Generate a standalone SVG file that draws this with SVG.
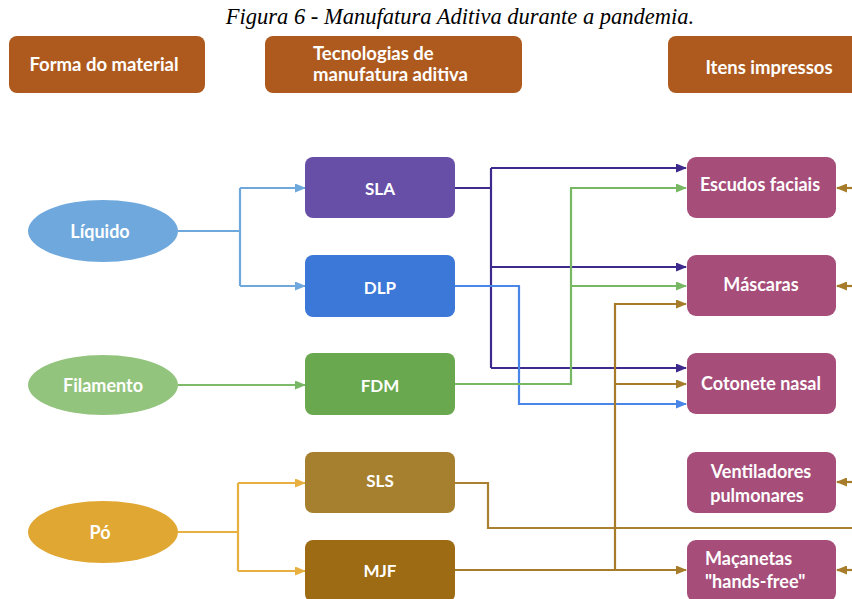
<svg xmlns="http://www.w3.org/2000/svg" width="852" height="599" viewBox="0 0 852 599">
<style>
.t{font-family:Lato,"Liberation Sans",sans-serif;font-weight:bold;fill:#fff;font-size:18px;text-anchor:middle;dominant-baseline:central}
.hd{font-size:18.5px}
.tc{font-size:17px}
.h{fill:#AE5A1E}
.it{fill:#A64D79}
.c{fill:none;stroke-width:2.2}
</style>
<defs>
<marker id="aL" markerUnits="userSpaceOnUse" markerWidth="11" markerHeight="9" refX="10" refY="4.5" orient="auto"><path d="M0,0 L11,4.5 L0,9 z" fill="#6FA8DC"/></marker>
<marker id="aP" markerUnits="userSpaceOnUse" markerWidth="11" markerHeight="9" refX="10" refY="4.5" orient="auto"><path d="M0,0 L11,4.5 L0,9 z" fill="#3E2A8C"/></marker>
<marker id="aB" markerUnits="userSpaceOnUse" markerWidth="11" markerHeight="9" refX="10" refY="4.5" orient="auto"><path d="M0,0 L11,4.5 L0,9 z" fill="#4A86E8"/></marker>
<marker id="aG" markerUnits="userSpaceOnUse" markerWidth="11" markerHeight="9" refX="10" refY="4.5" orient="auto"><path d="M0,0 L11,4.5 L0,9 z" fill="#78B865"/></marker>
<marker id="aO" markerUnits="userSpaceOnUse" markerWidth="11" markerHeight="9" refX="10" refY="4.5" orient="auto"><path d="M0,0 L11,4.5 L0,9 z" fill="#E8B040"/></marker>
<marker id="aN" markerUnits="userSpaceOnUse" markerWidth="11" markerHeight="9" refX="10" refY="4.5" orient="auto"><path d="M0,0 L11,4.5 L0,9 z" fill="#A67C2A"/></marker>
</defs>
<rect width="852" height="599" fill="#fff"/>
<text x="460" y="24" font-family="Liberation Serif,serif" font-style="italic" font-size="22.5" text-anchor="middle" fill="#000">Figura 6 - Manufatura Aditiva durante a pandemia.</text>

<g id="connectors">
<path class="c" stroke="#6FA8DC" d="M178,231 H240 M240,188 V286"/>
<path class="c" stroke="#6FA8DC" d="M240,188 H305" marker-end="url(#aL)"/>
<path class="c" stroke="#6FA8DC" d="M240,286 H305" marker-end="url(#aL)"/>
<path class="c" stroke="#7DBB6A" d="M178,385 H305" marker-end="url(#aG)"/>
<path class="c" stroke="#E8B040" d="M178,532 H238 M238,483 V571"/>
<path class="c" stroke="#E8B040" d="M238,483 H305" marker-end="url(#aO)"/>
<path class="c" stroke="#E8B040" d="M238,571 H305" marker-end="url(#aO)"/>

<path class="c" stroke="#3E2A8C" d="M455,188 H491 M491,168 V368"/>
<path class="c" stroke="#3E2A8C" d="M491,168 H686" marker-end="url(#aP)"/>
<path class="c" stroke="#3E2A8C" d="M491,267 H686" marker-end="url(#aP)"/>
<path class="c" stroke="#3E2A8C" d="M491,368 H686" marker-end="url(#aP)"/>

<path class="c" stroke="#4A86E8" d="M455,286 H519 V404 H686" marker-end="url(#aB)"/>

<path class="c" stroke="#78B865" d="M455,384 H571 V188 H686" marker-end="url(#aG)"/>
<path class="c" stroke="#78B865" d="M571,286 H686" marker-end="url(#aG)"/>

<path class="c" stroke="#A8802F" d="M455,483 H488 V528 H852"/>

<path class="c" stroke="#A67C2A" d="M455,570 H686" marker-end="url(#aN)"/>
<path class="c" stroke="#A67C2A" d="M615,570 V304 H686" marker-end="url(#aN)"/>
<path class="c" stroke="#A67C2A" d="M615,384 H686" marker-end="url(#aN)"/>

<path class="c" stroke="#A67C2A" d="M852,188 H837" marker-end="url(#aN)"/>
<path class="c" stroke="#A67C2A" d="M852,286 H837" marker-end="url(#aN)"/>
<path class="c" stroke="#A67C2A" d="M852,482 H837" marker-end="url(#aN)"/>
<path class="c" stroke="#A67C2A" d="M852,570 H837" marker-end="url(#aN)"/>
</g>

<g id="h1"><rect class="h" x="9" y="36" width="196" height="57" rx="8"/><text class="t hd" x="104" y="64">Forma do material</text></g>
<g id="h2"><rect class="h" x="265" y="36" width="257" height="57" rx="8"/><text class="t hd" x="313" y="53" style="text-anchor:start">Tecnologias de</text><text class="t hd" x="313" y="74" style="text-anchor:start">manufatura aditiva</text></g>
<g id="h3"><rect class="h" x="668" y="36" width="196" height="57" rx="8"/><text class="t hd" x="769" y="67">Itens impressos</text></g>

<g id="liquido"><ellipse cx="103" cy="231" rx="75" ry="31" fill="#6FA8DC"/><text class="t" x="100" y="231">Líquido</text></g>
<g id="filamento"><ellipse cx="103" cy="385" rx="75" ry="30" fill="#93C47D"/><text class="t" x="103" y="385">Filamento</text></g>
<g id="po"><ellipse cx="103" cy="532" rx="75" ry="31" fill="#E0A733"/><text class="t" x="100" y="532">Pó</text></g>

<g id="sla"><rect x="305" y="157" width="150" height="61" rx="8" fill="#674EA7"/><text class="t tc" x="380" y="188">SLA</text></g>
<g id="dlp"><rect x="305" y="255" width="150" height="62" rx="8" fill="#3C78D8"/><text class="t tc" x="380" y="287">DLP</text></g>
<g id="fdm"><rect x="305" y="353" width="150" height="62" rx="8" fill="#6AA84F"/><text class="t tc" x="380" y="385">FDM</text></g>
<g id="sls"><rect x="305" y="452" width="150" height="61" rx="8" fill="#A6802F"/><text class="t tc" x="380" y="480">SLS</text></g>
<g id="mjf"><rect x="305" y="540" width="150" height="62" rx="8" fill="#9C6B14"/><text class="t tc" x="380" y="570">MJF</text></g>

<g id="escudos"><rect class="it" x="687" y="157" width="149" height="61" rx="9"/><text class="t" x="760" y="184">Escudos faciais</text></g>
<g id="mascaras"><rect class="it" x="687" y="255" width="149" height="61" rx="9"/><text class="t" x="761" y="284">Máscaras</text></g>
<g id="cotonete"><rect class="it" x="687" y="353" width="149" height="61" rx="9"/><text class="t" x="761" y="383">Cotonete nasal</text></g>
<g id="ventiladores"><rect class="it" x="687" y="452" width="149" height="61" rx="9"/><text class="t" x="761" y="471">Ventiladores</text><text class="t" x="757" y="495">pulmonares</text></g>
<g id="macanetas"><rect class="it" x="687" y="540" width="149" height="62" rx="9"/><text class="t" x="705" y="558" style="text-anchor:start">Maçanetas</text><text class="t" x="705" y="581" style="text-anchor:start">"hands-free"</text></g>
</svg>
